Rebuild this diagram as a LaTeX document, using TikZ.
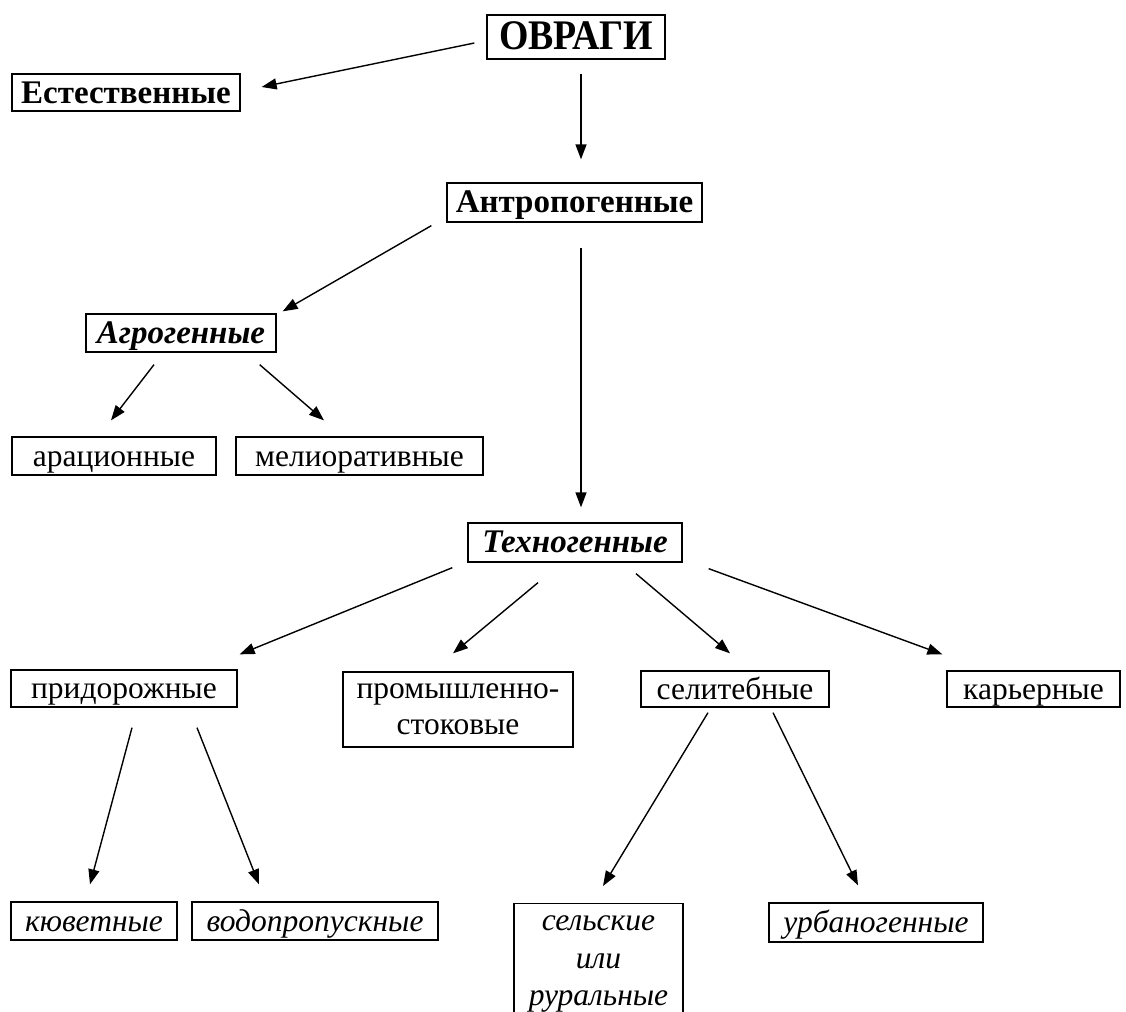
\documentclass[tikz,border=0pt]{standalone}
\usepackage{fontspec}
\setmainfont{Liberation Serif}
\usetikzlibrary{arrows.meta,calc}
\newcommand\fReg{\fontsize{31.5}{37}\selectfont}
\newcommand\fBold{\fontsize{33}{38}\selectfont\bfseries}
\newcommand\fBig{\fontsize{39}{42}\selectfont\bfseries}
\newcommand\fBoldIt{\fontsize{33}{38}\selectfont\bfseries\itshape}
\newcommand\fIt{\fontsize{31.5}{37.5}\selectfont\itshape}
\tikzset{
  box/.style={draw=black, line width=1.3pt, inner sep=0pt, fill=white},
  lab/.style={box, text height=26pt, text depth=6pt},
  arr/.style={line width=1.4pt, -{Triangle[length=15pt,width=11pt]}}
}
\begin{document}
\begin{tikzpicture}[x=1pt,y=-1pt]
\useasboundingbox[fill=white] (0,0) rectangle (1126,1011);
\clip (0,0) rectangle (1126,1011);

\node[box, text height=30pt, text depth=4pt, font=\fBig, minimum width=178, minimum height=44] (ovragi) at (576,37) {\scalebox{0.97}[1.08]{ОВРАГИ}};
\node[lab, text height=28pt, text depth=5pt, font=\fBold, minimum width=228, minimum height=37] (estest) at (126,92.5) {Естественные};
\node[lab, font=\fBold, minimum width=255, minimum height=39] (antro) at (574.5,202.5) {Антропогенные};
\node[lab, font=\fBoldIt, minimum width=190, minimum height=38] (agro) at (181,333) {Агрогенные};
\node[lab, font=\fReg, minimum width=204, minimum height=38] (arac) at (114,456) {арационные};
\node[lab, font=\fReg, minimum width=247, minimum height=38] (melior) at (359.5,456) {мелиоративные};
\node[lab, font=\fBoldIt, minimum width=214, minimum height=39] (techno) at (575,542.5) {Техногенные};
\node[lab, font=\fReg, minimum width=226, minimum height=37] (prid) at (124,688.5) {придорожные};
\node[box, align=center, font={\fontsize{31.5}{36}\selectfont}, minimum width=230, minimum height=75] (prom) at (458,709.5) {промышленно-\\стоковые};
\node[lab, font=\fReg, minimum width=188, minimum height=36] (selit) at (735,689) {селитебные};
\node[lab, font=\fReg, minimum width=173, minimum height=36] (kar) at (1033.5,689) {карьерные};
\node[lab, font=\fIt, minimum width=166, minimum height=38] (kuv) at (94,921) {кюветные};
\node[lab, font=\fIt, minimum width=246, minimum height=38] (vodo) at (315,921) {водопропускные};
\node[box, align=center, font=\fIt, minimum width=169, anchor=north] (sel) at (598.5,903) {\rule{0pt}{27pt}сельские\\или\\руральные};
\node[lab, font=\fIt, minimum width=214, minimum height=39] (urb) at (876,922.5) {урбаногенные};

\draw[arr] ($(ovragi.west)+(-12,6)$) -- ($(estest.east)+(21,-5.5)$);
\draw[arr] ($(ovragi.south)+(5,14)$) -- ($(antro.north)+(6.5,-23)$);
\draw[arr] ($(antro.south west)+(-15,3)$) -- ($(agro.north east)+(6,-2)$);
\draw[arr] ($(antro.south)+(6.5,25)$) -- ($(techno.north)+(6,-15)$);
\draw[arr] ($(agro.south)+(-27,12)$) -- ($(arac.north)+(-3,-16)$);
\draw[arr] ($(agro.south east)+(-17,12)$) -- ($(melior.north)+(-35.5,-16)$);
\draw[arr] ($(techno.south west)+(-15,5)$) -- ($(prid.north east)+(2,-15)$);
\draw[arr] ($(techno.south)+(-37,20)$) -- ($(prom.north)+(-5,-18)$);
\draw[arr] ($(techno.south)+(61,11)$) -- ($(selit.north)+(-5,-17)$);
\draw[arr] ($(techno.south east)+(26,6)$) -- ($(kar.north west)+(-4,-16)$);
\draw[arr] ($(prid.south)+(8,20)$) -- ($(kuv.north)+(-4,-17)$);
\draw[arr] ($(prid.south)+(73,20)$) -- ($(vodo.north)+(-56,-17)$);
\draw[arr] ($(selit.south)+(-27,5)$) -- ($(sel.north)+(4.5,-17)$);
\draw[arr] ($(selit.south)+(38,5)$) -- ($(urb.north)+(-18,-17)$);
\end{tikzpicture}
\end{document}
